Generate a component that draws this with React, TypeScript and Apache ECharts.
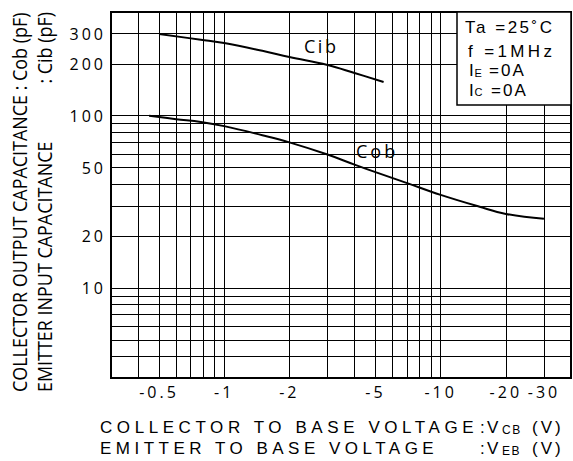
import React, { useEffect, useRef } from 'react';
import * as echarts from 'echarts';

const FONT = '"Open Sans", "Noto Sans", sans-serif';
const BOX_FONT = '"Liberation Sans", Arial, sans-serif';

// Cib curve (emitter input capacitance) : |VEB| (V) -> pF
const cibVoltage = [0.5, 0.78, 1, 1.5, 2, 3, 4, 5.45];
const cibCap = [298, 276, 264, 238, 219, 197, 177, 157];

// Cob curve (collector output capacitance) : |VCB| (V) -> pF
const cobVoltage = [0.45, 0.6, 0.78, 1, 1.5, 2, 3, 4, 5, 7, 10, 15, 20, 30];
const cobCap = [100, 95.5, 92, 87, 77, 70, 59.5, 52, 47, 40.6, 34.7, 29.7, 26.9, 25.2];

// axis labels
const xLabelValues = [0.5, 1, 2, 5, 10, 20, 30];
const yLabelValues = [10, 20, 50, 100, 200, 300];

// grid lines
const xGridValues = [0.4, 0.5, 0.6, 0.7, 0.8, 0.9, 1, 2, 3, 4, 5, 6, 7, 8, 9, 10, 20, 30];
const yGridValues = [4, 5, 6, 7, 8, 9, 10, 20, 30, 40, 50, 60, 70, 80, 90, 100, 200, 300];

const fmtX = (v: number) => '-' + String(+Number(v).toPrecision(3));
const fmtY = (v: number) => String(Math.round(v));

export default function App() {
  const ref = useRef<HTMLDivElement>(null);

  useEffect(() => {
    const el = ref.current as HTMLDivElement;
    const chart = echarts.init(el, null, { renderer: 'svg' });

    const ctx = document.createElement('canvas').getContext('2d') as CanvasRenderingContext2D;
    const measure = (t: string, size: number, family = FONT) => {
      ctx.font = `${size}px ${family}`;
      return ctx.measureText(t).width;
    };
    const fit = (t: string, size: number, target: number, family = FONT) =>
      Math.max(0, (target - measure(t, size, family)) / Math.max(1, t.length - 1));

    // y-axis title (condensed)
    const yTitleSize = 20;
    const yLine1 = 'COLLECTOR OUTPUT CAPACITANCE : Cob (pF)';
    const yLine2a = 'EMITTER INPUT CAPACITANCE';
    const yLine2b = ': Cib (pF)';
    const yScale = 380 / measure(yLine1, yTitleSize);

    // x-axis title (letter spaced)
    const xTitleSize = 17;
    const xLine1 = 'COLLECTOR TO BASE VOLTAGE';
    const xLine2 = 'EMITTER TO BASE VOLTAGE';

    // conditions
    const cond1 = 'Ta =25˚C';
    const cond2 = 'f =1MHz';
    const condSize = 17;

    const txt = (x: number, y: number, text: string, size: number, extra: any = {}) => ({
      type: 'text',
      x,
      y,
      z: 20,
      style: {
        text,
        fontSize: size,
        fontFamily: FONT,
        fill: '#000',
        textAlign: 'left',
        textVerticalAlign: 'middle',
        ...extra,
      },
    });
    const box = { fontFamily: BOX_FONT };

    const option: any = {
      animation: false,
      backgroundColor: '#fff',
      grid: {
        left: 111,
        right: 2,
        top: 12,
        bottom: 83,
        show: true,
        borderColor: '#000',
        borderWidth: 2,
        backgroundColor: 'transparent',
      },
      xAxis: {
        type: 'log',
        logBase: 10,
        min: 0.3,
        max: 40,
        axisLine: { show: false },
        axisTick: { show: false },
        splitLine: { show: false },
        minorTick: { show: false },
        minorSplitLine: { show: false },
        axisLabel: {
          customValues: xLabelValues,
          formatter: fmtX,
          fontSize: 16,
          fontFamily: FONT,
          color: '#000',
          margin: 6,
        },
      },
      yAxis: {
        type: 'log',
        logBase: 10,
        min: 3,
        max: 400,
        axisLine: { show: false },
        axisTick: { show: false },
        splitLine: { show: false },
        minorTick: { show: false },
        minorSplitLine: { show: false },
        axisLabel: {
          customValues: yLabelValues,
          formatter: fmtY,
          fontSize: 16,
          fontFamily: FONT,
          color: '#000',
          margin: 5,
        },
      },
      series: [
        {
          type: 'line',
          data: [],
          z: 1,
          silent: true,
          markLine: {
            silent: true,
            symbol: ['none', 'none'],
            label: { show: false },
            emphasis: { disabled: true },
            lineStyle: { color: '#000', width: 1, type: 'solid' },
            data: [
              ...xGridValues.map((v) => ({ xAxis: v })),
              ...yGridValues.map((v) => ({ yAxis: v })),
            ],
          },
        },
        {
          name: 'Cib',
          type: 'line',
          z: 10,
          smooth: 0.4,
          showSymbol: false,
          lineStyle: { color: '#000', width: 2 },
          data: cibVoltage.map((v, i) => [v, cibCap[i]]),
        },
        {
          name: 'Cob',
          type: 'line',
          z: 10,
          smooth: 0.4,
          showSymbol: false,
          lineStyle: { color: '#000', width: 2 },
          data: cobVoltage.map((v, i) => [v, cobCap[i]]),
        },
      ],
      graphic: [
        // curve labels
        { type: 'rect', z: 5, shape: { x: 292, y: 35, width: 60, height: 22 }, style: { fill: '#fff' } },
        txt(304, 46, 'Cib', 18),
        { type: 'rect', z: 5, shape: { x: 352, y: 137, width: 53, height: 26 }, style: { fill: '#fff' } },
        txt(356, 151, 'Cob', 18),
        // conditions box
        {
          type: 'rect',
          z: 15,
          shape: { x: 457, y: 12, width: 114, height: 93 },
          style: { fill: '#fff', stroke: '#000', lineWidth: 1.5 },
        },
        txt(465, 27.5, cond1, condSize, box),
        txt(468, 51, cond2, condSize, box),
        txt(469, 70.5, 'I', condSize, box),
        txt(474.5, 72.5, 'E', 11, box),
        txt(489, 70.5, '=0A', condSize, box),
        txt(469, 90, 'I', condSize, box),
        txt(474.5, 92, 'C', 11, box),
        txt(491, 90, '=0A', condSize, box),
        // y-axis title
        {
          type: 'text',
          x: 19.5,
          y: 392,
          rotation: Math.PI / 2,
          scaleX: yScale,
          z: 20,
          style: { text: yLine1, fontSize: yTitleSize, fontFamily: FONT, fill: '#000', textAlign: 'left', textVerticalAlign: 'middle' },
        },
        {
          type: 'text',
          x: 44.5,
          y: 392,
          rotation: Math.PI / 2,
          scaleX: yScale,
          z: 20,
          style: { text: yLine2a, fontSize: yTitleSize, fontFamily: FONT, fill: '#000', textAlign: 'left', textVerticalAlign: 'middle' },
        },
        {
          type: 'text',
          x: 44.5,
          y: 12,
          rotation: Math.PI / 2,
          scaleX: yScale,
          z: 20,
          style: { text: yLine2b, fontSize: yTitleSize, fontFamily: FONT, fill: '#000', textAlign: 'right', textVerticalAlign: 'middle' },
        },
        // x-axis title
        txt(100, 427.5, xLine1, xTitleSize, box),
        txt(480, 427.5, ':', xTitleSize, box),
        txt(487, 427.5, 'V', xTitleSize, box),
        txt(502, 430, 'CB', 12, box),
        txt(532, 427.5, '(V)', xTitleSize, box),
        txt(100, 448, xLine2, xTitleSize, box),
        txt(480, 448, ':', xTitleSize, box),
        txt(487, 448, 'V', xTitleSize, box),
        txt(502, 450.5, 'EB', 12, box),
        txt(532, 448, '(V)', xTitleSize, box),
      ],
    };

    chart.setOption(option);

    const spacing: Record<string, number> = {
      [xLine1]: fit(xLine1, xTitleSize, 374, BOX_FONT),
      [xLine2]: fit(xLine2, xTitleSize, 334, BOX_FONT),
      '(V)': 3,
      CB: 1.5,
      EB: 1.5,
      [cond1]: fit(cond1, condSize, 87, BOX_FONT),
      [cond2]: fit(cond2, condSize, 84, BOX_FONT),
      '=0A': 2,
      Cib: 2.5,
      Cob: 3,
    };
    xLabelValues.forEach((v) => (spacing[fmtX(v)] = 3));
    yLabelValues.forEach((v) => (spacing[fmtY(v)] = 3));

    el.querySelectorAll('text').forEach((t) => {
      const s = spacing[(t.textContent || '').trim()];
      if (s != null) t.setAttribute('letter-spacing', s.toFixed(2));
    });

    return () => chart.dispose();
  }, []);

  return <div ref={ref} style={{ position: 'absolute', left: 0, top: 0, width: 573, height: 461 }} />;
}
